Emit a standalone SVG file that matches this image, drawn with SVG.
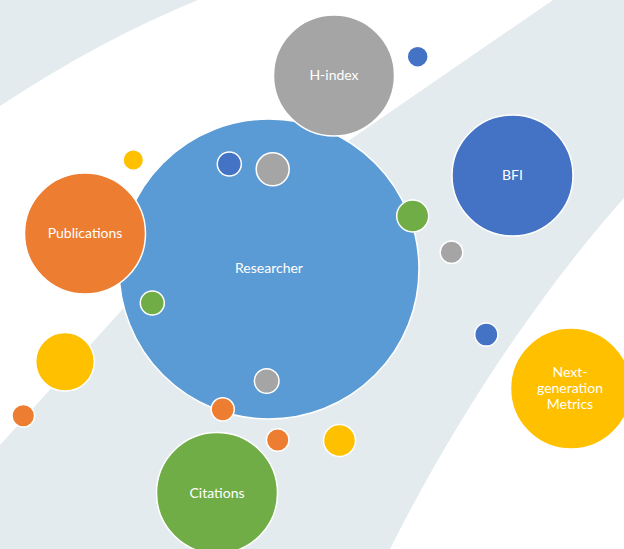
<svg xmlns="http://www.w3.org/2000/svg" width="624" height="549" viewBox="0 0 624 549">
  <style>
    .band { fill: #E4EBEE; stroke: none; }
    .node { stroke: #FFFFFF; stroke-width: 1.5; }
    .dot { stroke: #FFFFFF; stroke-width: 1.5; }
    .lbl { font-family: Lato, "Open Sans", "Liberation Sans", sans-serif; font-size: 14px; fill: #FFFFFF; text-anchor: middle; }
    .blue { fill: #5B9BD5; }
    .dblue { fill: #4472C4; }
    .grey { fill: #A5A5A5; }
    .orange { fill: #ED7D31; }
    .yellow { fill: #FFC000; }
    .green { fill: #70AD47; }
  </style>
  <rect x="0" y="0" width="624" height="549" fill="#FFFFFF"/>
  <g id="background">
    <path class="band" d="M0,0 L198,0 Q100,40 0,106 Z"/>
    <path class="band" d="M553,0 L624,0 L624,198 C560,270 470,390 390,549 L0,549 L0,445 L120,312 Q151,277 200,243 Z"/>
  </g>
  <g id="connectors"></g>
  <g id="node-researcher">
    <circle class="node blue" cx="269" cy="269" r="150"/>
    <text class="lbl" x="269" y="273">Researcher</text>
  </g>
  <g id="node-hindex">
    <circle class="node grey" cx="334" cy="75.5" r="60.5"/>
    <text class="lbl" x="334" y="80">H-index</text>
  </g>
  <g id="node-publications">
    <circle class="node orange" cx="85" cy="233.5" r="60.5"/>
    <text class="lbl" x="85" y="238">Publications</text>
  </g>
  <g id="node-bfi">
    <circle class="node dblue" cx="512.5" cy="175.5" r="60.5"/>
    <text class="lbl" x="512.5" y="180">BFI</text>
  </g>
  <g id="node-nextgen">
    <circle class="node yellow" cx="571" cy="388.5" r="60.5"/>
    <text class="lbl" x="570" y="377">Next-</text>
    <text class="lbl" x="570" y="393">generation</text>
    <text class="lbl" x="570" y="409">Metrics</text>
  </g>
  <g id="node-citations">
    <circle class="node green" cx="217" cy="493" r="60.5"/>
    <text class="lbl" x="217" y="498">Citations</text>
  </g>
  <g id="dots">
    <circle class="dot dblue" cx="417.7" cy="56.7" r="10.5"/>
    <circle class="dot yellow" cx="133.3" cy="160" r="10.3"/>
    <circle class="dot dblue" cx="229.3" cy="164" r="12"/>
    <circle class="dot grey" cx="272.7" cy="169.3" r="16.5"/>
    <circle class="dot green" cx="412.7" cy="216" r="16"/>
    <circle class="dot grey" cx="451.5" cy="252.3" r="11.3"/>
    <circle class="dot green" cx="152.3" cy="303" r="12"/>
    <circle class="dot yellow" cx="65" cy="361.7" r="29.3"/>
    <circle class="dot orange" cx="23.3" cy="415.7" r="11.3"/>
    <circle class="dot grey" cx="266.7" cy="381" r="12.3"/>
    <circle class="dot orange" cx="222.7" cy="409.3" r="11.6"/>
    <circle class="dot orange" cx="277.7" cy="440" r="11.3"/>
    <circle class="dot yellow" cx="339.5" cy="440.5" r="16"/>
    <circle class="dot dblue" cx="486.3" cy="334.5" r="11.6"/>
  </g>
</svg>
